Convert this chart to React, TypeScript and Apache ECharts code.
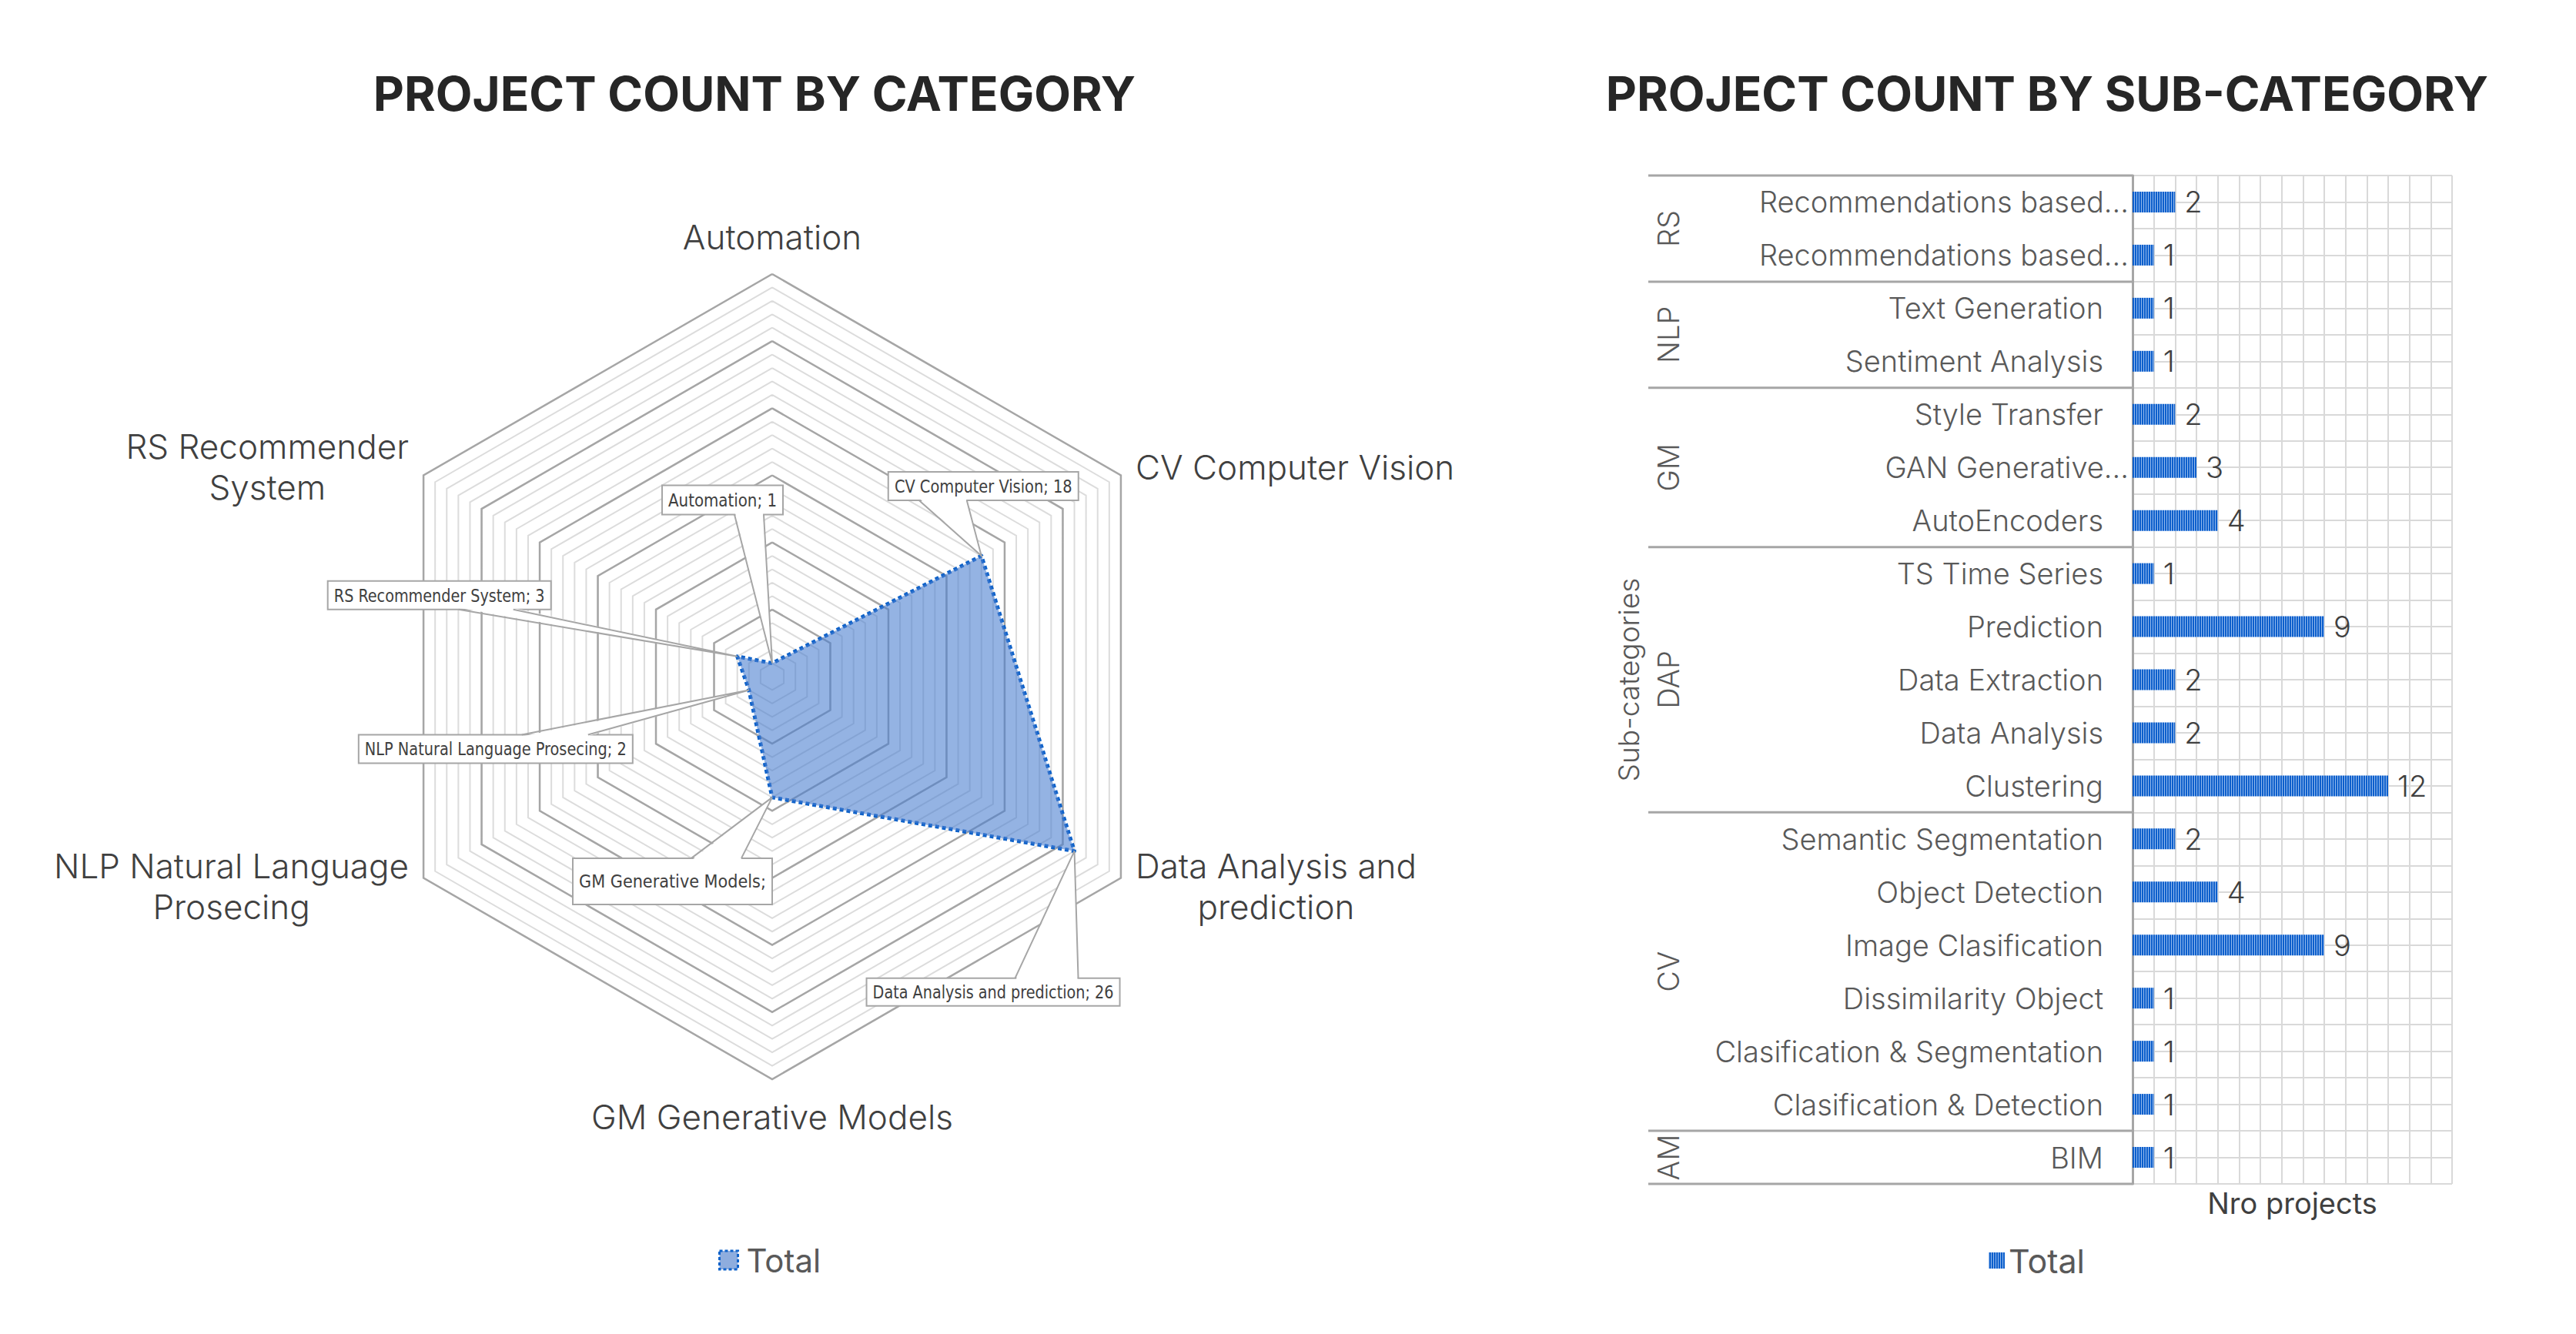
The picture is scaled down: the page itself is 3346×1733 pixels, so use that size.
import React, { useEffect, useRef } from 'react';
import * as echarts from 'echarts';

// ---------- Left chart: project count by category (radar) ----------
const radarIndicators = [
  'Automation',
  'RS Recommender System',
  'NLP Natural Language Prosecing',
  'GM Generative Models',
  'Data Analysis and prediction',
  'CV Computer Vision',
];
const radarAxisText = [
  'Automation',
  'RS Recommender\nSystem',
  'NLP Natural Language\nProsecing',
  'GM Generative Models',
  'Data Analysis and\nprediction',
  'CV Computer Vision',
];
const radarValues = [1, 3, 2, 9, 26, 18];
const radarCalloutTexts = [
  'Automation; 1',
  'RS Recommender System; 3',
  'NLP Natural Language Prosecing; 2',
  'GM Generative Models;',
  'Data Analysis and prediction; 26',
  'CV Computer Vision; 18',
];
const radarMax = 30;

// ---------- Right chart: project count by sub-category (bars) ----------
const subCategories = [
  'Recommendations based...',
  'Recommendations based...',
  'Text Generation',
  'Sentiment Analysis',
  'Style Transfer',
  'GAN Generative...',
  'AutoEncoders',
  'TS Time Series',
  'Prediction',
  'Data Extraction',
  'Data Analysis',
  'Clustering',
  'Semantic Segmentation',
  'Object Detection',
  'Image Clasification',
  'Dissimilarity Object',
  'Clasification & Segmentation',
  'Clasification & Detection',
  'BIM',
];
const subValues = [2, 1, 1, 1, 2, 3, 4, 1, 9, 2, 2, 12, 2, 4, 9, 1, 1, 1, 1];
const groupNames = ['RS', 'NLP', 'GM', 'DAP', 'CV', 'AM'];
const groupSizes = [2, 2, 3, 5, 6, 1];
const barAxisMax = 15;

// ---------- layout (annotation geometry, relative to each radar point) ----------
const RADAR_CENTER = [1003, 879];
const RADAR_RADIUS = 523;
const calloutLayout = [
  { box: [-143, -231, 157, 38], base: [[-49, -193], [-11, -193]] },
  { box: [-532, -98, 290, 37], base: [[-362, -61], [-291, -61]] },
  { box: [-507, 58, 356, 37], base: [[-295, 58], [-209, 58]] },
  { box: [-259, 79, 259, 60], base: [[-105, 79], [-40, 79]] },
  { box: [-270, 165, 329, 36], base: [[-77, 165], [5, 165]] },
  { box: [-121, -109, 247, 37], base: [[-81, -72], [-19, -72]] },
];

const FONT = 'Inter, "Noto Sans", sans-serif';
const CALLOUT_FONT = '"Liberation Sans Narrow", "DejaVu Sans Condensed", "Liberation Sans", sans-serif';
const CALLOUT_SIZE = 23;

function makeStripePattern(): any {
  const c = document.createElement('canvas');
  c.width = 3;
  c.height = 4;
  const ctx = c.getContext('2d')!;
  ctx.fillStyle = '#0d5fcc';
  ctx.fillRect(0, 0, 3, 4);
  ctx.fillStyle = '#93b9ec';
  ctx.fillRect(0, 0, 1, 4);
  return { image: c, repeat: 'repeat' };
}

function measure(text: string, font: string): number {
  const c = document.createElement('canvas');
  const ctx = c.getContext('2d')!;
  ctx.font = font;
  return ctx.measureText(text).width;
}

export default function App() {
  const ref = useRef<HTMLDivElement>(null);

  useEffect(() => {
    const chart = echarts.init(ref.current!, null, { renderer: 'svg' });
    const stripe = makeStripePattern();

    const axisNameRich = {
      c: {
        align: 'center',
        fontSize: 44,
        lineHeight: 53,
        color: '#404040',
        fontFamily: FONT,
        fontWeight: 300,
      },
    };

    const baseRadar = {
      center: RADAR_CENTER,
      radius: RADAR_RADIUS,
      startAngle: 90,
      shape: 'polygon',
      indicator: radarIndicators.map((n) => ({ name: n, min: 0, max: radarMax })),
      axisLine: { show: false },
      axisTick: { show: false },
      axisLabel: { show: false },
      splitArea: { show: false },
    };

    const option: any = {
      animation: false,
      backgroundColor: '#ffffff',
      textStyle: { fontFamily: FONT },
      title: [
        {
          text: 'PROJECT COUNT BY CATEGORY',
          left: 980,
          top: 90,
          padding: 0,
          textAlign: 'center',
          textStyle: { fontFamily: FONT, fontWeight: 'bold', fontSize: 62, color: '#262626' },
        },
        {
          text: 'PROJECT COUNT BY SUB-CATEGORY',
          left: 2659,
          top: 90,
          padding: 0,
          textAlign: 'center',
          textStyle: { fontFamily: FONT, fontWeight: 'bold', fontSize: 62, color: '#262626' },
        },
      ],
      legend: [
        {
          data: ['Total'],
          left: 933,
          top: 1616,
          padding: 0,
          icon: 'rect',
          itemWidth: 24,
          itemHeight: 24,
          selectedMode: false,
          itemStyle: {
            color: 'rgba(66,118,200,0.6)',
            borderColor: '#0f62c9',
            borderWidth: 3,
            borderType: [4, 3],
          },
          textStyle: { fontFamily: FONT, fontSize: 42, color: '#595959', padding: [0, 0, 0, 6] },
        },
        {
          data: ['Total (bars)'],
          formatter: () => 'Total',
          left: 2583,
          top: 1616,
          padding: 0,
          icon: 'rect',
          itemWidth: 21,
          itemHeight: 21,
          selectedMode: false,
          textStyle: { fontFamily: FONT, fontSize: 43, color: '#595959' },
        },
      ],
      radar: [
        {
          ...baseRadar,
          splitNumber: radarMax,
          axisNameGap: 22,
          axisName: {
            show: true,
            formatter: (name: string) => {
              const i = radarIndicators.indexOf(name);
              const txt = i >= 0 ? radarAxisText[i] : name;
              return txt
                .split('\n')
                .map((l) => `{c|${l}}`)
                .join('\n');
            },
            rich: axisNameRich,
            color: '#404040',
            fontSize: 44,
            lineHeight: 53,
            fontFamily: FONT,
          },
          splitLine: { lineStyle: { color: '#dcdcdc', width: 2 } },
        },
        {
          ...baseRadar,
          splitNumber: 6,
          axisName: { show: false },
          splitLine: { lineStyle: { color: '#a6a6a6', width: 2.5 } },
        },
      ],
      grid: {
        left: 2770,
        top: 228,
        width: 415,
        height: 1310,
        outerBoundsMode: 'none',
      },
      xAxis: {
        type: 'value',
        min: 0,
        max: barAxisMax,
        interval: 1,
        name: 'Nro projects',
        nameLocation: 'middle',
        nameGap: 6,
        nameTextStyle: {
          fontFamily: FONT,
          fontSize: 38,
          color: '#404040',
          verticalAlign: 'top',
        },
        axisLabel: { show: false },
        axisTick: { show: false },
        axisLine: { show: false },
        splitLine: { show: true, lineStyle: { color: '#d9d9d9', width: 2 } },
      },
      yAxis: [
        {
          type: 'category',
          inverse: true,
          data: subCategories,
          axisTick: { show: false },
          axisLine: { show: true, lineStyle: { color: '#a6a6a6', width: 3 } },
          splitLine: { show: false },
          axisLabel: {
            margin: 5,
            interval: 0,
            formatter: (v: string) =>
              v.endsWith('...') ? `{t|${v}}` : `{n|${v}}`,
            rich: {
              t: { fontSize: 38, color: '#595959', fontFamily: FONT, fontWeight: 300 },
              n: {
                fontSize: 38,
                color: '#595959',
                fontFamily: FONT,
                fontWeight: 300,
                padding: [0, 33, 0, 0],
              },
            },
          },
        },
        {
          type: 'value',
          inverse: true,
          min: 0,
          max: subCategories.length,
          interval: 0.5,
          position: 'right',
          axisLabel: { show: false },
          axisTick: { show: false },
          axisLine: { show: false },
          splitLine: { show: true, lineStyle: { color: '#d9d9d9', width: 2 } },
        },
      ],
      series: [
        {
          type: 'radar',
          name: 'Total',
          radarIndex: 0,
          symbol: 'none',
          z: 3,
          data: [{ name: 'Total', value: radarValues }],
          lineStyle: { color: '#0f62c9', width: 5, type: [5, 4], opacity: 1 },
          areaStyle: { color: 'rgba(70,124,206,0.58)', opacity: 1 },
          itemStyle: { color: 'rgba(70,124,206,0.58)' },
        },
        {
          type: 'bar',
          name: 'Total (bars)',
          xAxisIndex: 0,
          yAxisIndex: 0,
          barWidth: 27,
          data: subValues,
          itemStyle: { color: stripe },
          label: {
            show: true,
            position: 'right',
            distance: 12,
            fontFamily: FONT,
            fontSize: 38,
            color: '#404040',
            fontWeight: 300,
          },
        },
      ],
    };

    chart.setOption(option);

    // --- radar callouts, anchored to points from the radar coordinate system ---
    let pts: number[][] = [];
    try {
      const cs = (chart as any).getModel().getComponent('radar', 0).coordinateSystem;
      pts = radarValues.map((v, i) => cs.dataToPoint(v, i));
    } catch (e) {
      pts = radarValues.map((v, i) => {
        const a = Math.PI / 2 + (i * 2 * Math.PI) / radarValues.length;
        const r = (RADAR_RADIUS * v) / radarMax;
        return [RADAR_CENTER[0] + r * Math.cos(a), RADAR_CENTER[1] - r * Math.sin(a)];
      });
    }

    const elements: any[] = [];
    pts.forEach((p, i) => {
      const L = calloutLayout[i];
      const [bx, by, bw, bh] = L.box;
      const b1 = [p[0] + L.base[0][0], p[1] + L.base[0][1]];
      const b2 = [p[0] + L.base[1][0], p[1] + L.base[1][1]];
      const s = L.base[0][1] < 0 ? -2 : 2;
      const txt = radarCalloutTexts[i];
      const w = measure(txt, `${CALLOUT_SIZE}px ${CALLOUT_FONT}`);
      const target = bw - 16;
      const sx = w > 0 ? Math.min(1.15, target / w) : 1;
      elements.push({
        type: 'rect',
        z: 50,
        shape: { x: p[0] + bx, y: p[1] + by, width: bw, height: bh },
        style: { fill: '#ffffff', stroke: '#a6a6a6', lineWidth: 2 },
      });
      elements.push({
        type: 'polygon',
        z: 51,
        shape: { points: [[b1[0] + 1, b1[1] + s], p, [b2[0] - 1, b2[1] + s]] },
        style: { fill: '#ffffff', stroke: null },
      });
      elements.push({
        type: 'polyline',
        z: 52,
        shape: { points: [b1, p, b2] },
        style: { stroke: '#a6a6a6', lineWidth: 2, fill: null },
      });
      elements.push({
        type: 'text',
        z: 53,
        x: p[0] + bx + bw / 2,
        y: p[1] + by + bh / 2,
        scaleX: sx,
        style: {
          text: txt,
          fontFamily: CALLOUT_FONT,
          fontSize: CALLOUT_SIZE,
          fill: '#404040',
          textAlign: 'center',
          textVerticalAlign: 'middle',
        },
      });
    });

    // --- multi-level category axis: group separators and group labels ---
    const yPix = (v: number) => chart.convertToPixel({ yAxisIndex: 1 } as any, v) as unknown as number;
    const axisX = chart.convertToPixel({ xAxisIndex: 0 } as any, 0) as unknown as number;
    const sepLeft = 2141;
    let start = 0;
    const bounds = [0];
    groupSizes.forEach((sz) => {
      start += sz;
      bounds.push(start);
    });
    bounds.forEach((b) => {
      const y = yPix(b);
      elements.push({
        type: 'line',
        z: 10,
        shape: { x1: sepLeft, y1: y, x2: axisX, y2: y },
        style: { stroke: '#a6a6a6', lineWidth: 3 },
      });
    });
    groupNames.forEach((g, i) => {
      const mid = (bounds[i] + bounds[i + 1]) / 2;
      elements.push({
        type: 'text',
        z: 10,
        x: 2167,
        y: yPix(mid),
        rotation: Math.PI / 2,
        style: {
          text: g,
          fontFamily: FONT,
          fontSize: 38,
          fontWeight: 300,
          fill: '#595959',
          textAlign: 'center',
          textVerticalAlign: 'middle',
        },
      });
    });
    elements.push({
      type: 'text',
      z: 10,
      x: 2115,
      y: yPix(subCategories.length / 2),
      rotation: Math.PI / 2,
      style: {
        text: 'Sub-categories',
        fontFamily: FONT,
        fontSize: 37,
        fontWeight: 300,
        fill: '#595959',
        textAlign: 'center',
        textVerticalAlign: 'middle',
      },
    });

    chart.setOption({ graphic: { elements } });

    return () => chart.dispose();
  }, []);

  return (
    <div
      ref={ref}
      style={{ position: 'fixed', left: 0, top: 0, width: 3346, height: 1733, background: '#fff' }}
    />
  );
}
